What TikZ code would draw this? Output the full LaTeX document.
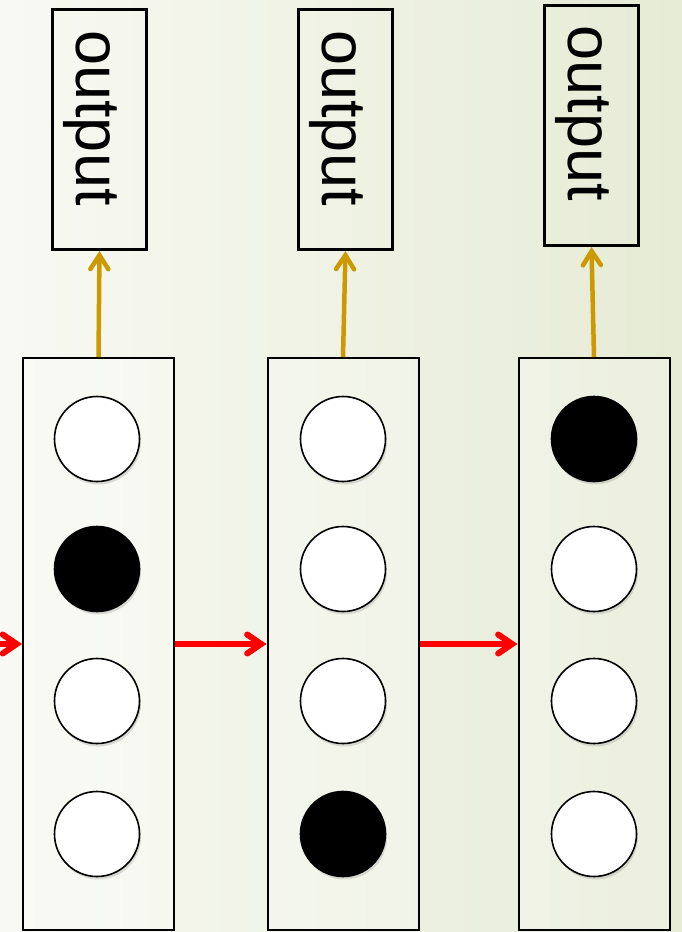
\documentclass[tikz,border=0pt]{standalone}
\usepackage{fontspec}
\newfontfamily\lblfont{Liberation Sans}
\usetikzlibrary{arrows.meta,shadows}
\definecolor{bgL}{HTML}{F8F9F3}
\definecolor{bgR}{HTML}{E6EBD5}
\definecolor{gold}{HTML}{CC9900}
\definecolor{arrred}{HTML}{FF0000}
\tikzset{
  outbox/.style={draw=black, line width=3pt, minimum width=94pt, minimum height=240pt, inner sep=0pt},
  outlabel/.style={font=\lblfont\fontsize{63}{70}\selectfont, rotate=-90, anchor=base, inner sep=0pt},
  layerbox/.style={draw=black, line width=2pt, fill=white, fill opacity=0.25, draw opacity=1, minimum width=151pt, minimum height=572pt, inner sep=0pt},
  unit/.style={circle, draw=black, line width=1.6pt, minimum size=85pt, inner sep=0pt,
    drop shadow={opacity=0.25, shadow xshift=1.5pt, shadow yshift=-3pt}},
  on/.style={unit, fill=black},
  off/.style={unit, fill=white},
  arrshadow/.style={preaction={draw=black, draw opacity=0.12, transform canvas={xshift=1pt, yshift=-2.5pt}}},
  redarrow/.style={arrshadow, draw=arrred, line width=6pt, -{Straight Barb[length=14pt, width=19pt, line cap=round]}},
  goldarrow/.style={arrshadow, draw=gold, line width=4.5pt, -{Straight Barb[length=14pt, width=18pt, line cap=round]}}
}
\begin{document}
\begin{tikzpicture}[x=1pt, y=-1pt]
\useasboundingbox (0,0) rectangle (682,932);
\shade[left color=bgL, right color=bgR] (0,0) rectangle (682,932);

% output boxes
\node[outbox] (o1) at (99.5,129.5) {};
\node[outbox] (o2) at (345.5,129.5) {};
\node[outbox] (o3) at (591.5,125.5) {};
\node[outlabel] (t1) at (76,118) {output};
\node[outlabel] (t2) at (322,118) {output};
\node[outlabel] (t3) at (568,113.5) {output};

% layer boxes
\node[layerbox] (l1) at (98.5,644) {};
\node[layerbox] (l2) at (343,644) {};
\node[layerbox] (l3) at (594,644) {};

% units
\node[off] (a1) at (97,439) {};
\node[on]  (a2) at (97,569) {};
\node[off] (a3) at (97,701) {};
\node[off] (a4) at (97,834) {};

\node[off] (b1) at (343,439) {};
\node[off] (b2) at (343,569) {};
\node[off] (b3) at (343,701) {};
\node[on]  (b4) at (343,834) {};

\node[on]  (c1) at (594,439) {};
\node[off] (c2) at (594,569) {};
\node[off] (c3) at (594,701) {};
\node[off] (c4) at (594,834) {};

% connectors
\coordinate (in) at (-4,644);
\draw[redarrow] (in) -- (l1.west);
\draw[redarrow] (l1.east) -- (l2.west);
\draw[redarrow] (l2.east) -- (l3.west);

\draw[goldarrow] (l1.north) -- (o1.south);
\draw[goldarrow] (l2.north) -- (o2.south);
\draw[goldarrow] (l3.north) -- (o3.south);
\end{tikzpicture}
\end{document}
